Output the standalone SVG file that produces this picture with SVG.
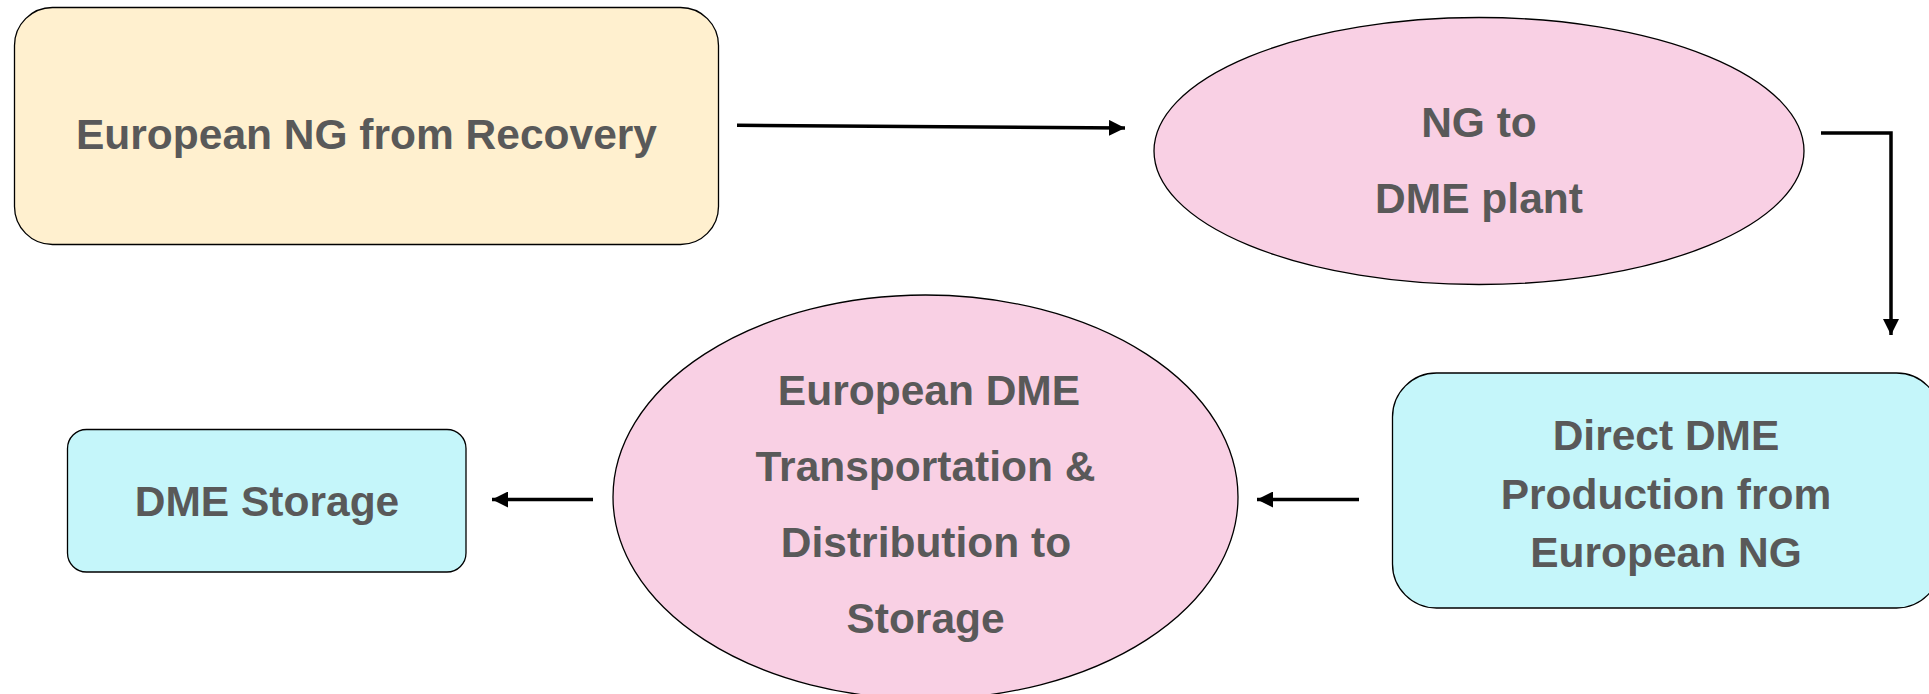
<svg xmlns="http://www.w3.org/2000/svg" width="1929" height="694" viewBox="0 0 1929 694">
<defs>
<marker id="ah" viewBox="0 0 16 16" refX="16" refY="8" markerWidth="16" markerHeight="16" markerUnits="userSpaceOnUse" orient="auto">
<path d="M0,0 L16,8 L0,16 Z" fill="#000"/>
</marker>
<style>
.lbl{font-family:"Liberation Sans",Arial,sans-serif;font-weight:bold;font-size:42.5px;fill:#595959;text-anchor:middle}
.cream{fill:#FFF0CF;stroke:#000;stroke-width:1.3}
.pink{fill:#F9D0E4;stroke:#000;stroke-width:1.3}
.cyan{fill:#C5F6FA;stroke:#000;stroke-width:1.3}
.conn{fill:none;stroke:#000;stroke-width:3.5;marker-end:url(#ah)}
</style>
</defs>
<rect width="1929" height="694" fill="#fff"/>
<g id="n1">
<rect class="cream" x="14.5" y="7.5" width="704" height="237" rx="38" ry="38"/>
<text class="lbl" x="366.5" y="149">European NG from Recovery</text>
</g>
<g id="n2">
<ellipse class="pink" cx="1479" cy="151" rx="325" ry="133.5"/>
<text class="lbl" x="1479" y="137">NG to</text>
<text class="lbl" x="1479" y="213">DME plant</text>
</g>
<g id="n3">
<rect class="cyan" x="1392.5" y="373" width="548" height="235" rx="44" ry="44"/>
<text class="lbl" x="1666" y="450">Direct DME</text>
<text class="lbl" x="1666" y="509">Production from</text>
<text class="lbl" x="1666" y="567">European NG</text>
</g>
<g id="n4">
<ellipse class="pink" cx="925.5" cy="497" rx="312.5" ry="202"/>
<text class="lbl" x="929" y="405">European DME</text>
<text class="lbl" x="925.5" y="481">Transportation &amp;</text>
<text class="lbl" x="926" y="557">Distribution to</text>
<text class="lbl" x="925.5" y="633">Storage</text>
</g>
<g id="n5">
<rect class="cyan" x="67.5" y="429.5" width="398.5" height="142.5" rx="19" ry="19"/>
<text class="lbl" x="267" y="516">DME Storage</text>
</g>
<g id="connectors">
<path class="conn" d="M737,125.3 L1125,128"/>
<path class="conn" d="M1821,133 L1891,133 L1891,335"/>
<path class="conn" d="M1359,499.5 L1257,499.5"/>
<path class="conn" d="M593,499.5 L492,499.5"/>
</g>
</svg>
